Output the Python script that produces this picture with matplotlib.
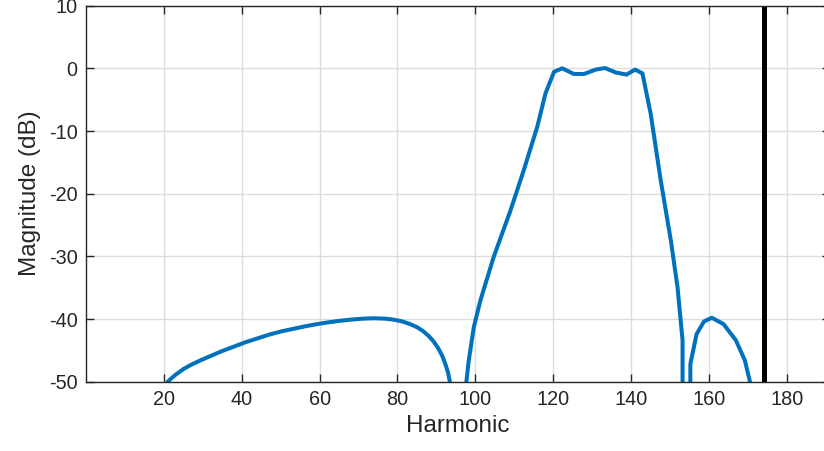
import numpy as np
import matplotlib
matplotlib.use('Agg')
import matplotlib.pyplot as plt

# harmonic response (three visible lobes)
lobe1_h  = [20.3, 21.5, 23, 25, 27, 29.4, 32, 35, 38, 41, 44, 47, 50, 53, 56, 59, 62, 65, 68, 71, 74,
            77, 79, 81, 83, 85, 86.5, 88, 89.3, 90.5, 91.5, 92.3, 93, 93.6]
lobe1_db = [-50.5, -49.7, -48.9, -48.0, -47.3, -46.6, -45.9, -45.1, -44.4, -43.7, -43.1, -42.5, -42.0,
            -41.6, -41.2, -40.85, -40.55, -40.3, -40.1, -39.95, -39.88, -39.95, -40.1, -40.35, -40.75,
            -41.3, -41.9, -42.7, -43.6, -44.7, -45.9, -47.2, -48.6, -50.5]

main_h  = [97.6, 98.3, 99.6, 101.3, 104.7, 109.0, 112.4, 115.9, 118.0, 120.2, 122.3, 125.3, 127.9, 130.9,
           133.3, 136.0, 138.8, 141.0, 142.9, 145.0, 147.6, 150.2, 151.9, 153.2, 153.2]
main_db = [-50.5, -46.6, -41.3, -37.0, -30.1, -22.7, -16.3, -9.3, -4.0, -0.55, 0.0, -0.9, -0.9, -0.2,
           0.05, -0.65, -1.0, -0.2, -0.8, -7.2, -17.9, -27.5, -34.9, -43.4, -50.5]

lobe3_h  = [155.2, 155.2, 156.8, 158.7, 160.7, 163.7, 166.9, 169.2, 170.7]
lobe3_db = [-50.5, -47.2, -42.4, -40.4, -39.8, -40.8, -43.4, -46.6, -50.5]

cutoff = 174
xticks = [20, 40, 60, 80, 100, 120, 140, 160, 180]
yticks = [-50, -40, -30, -20, -10, 0, 10]

plt.rcParams['font.family'] = ['Liberation Sans', 'DejaVu Sans']
plt.rcParams['axes.unicode_minus'] = False
fig = plt.figure(figsize=(8.24, 4.51), dpi=100)
ax = fig.add_axes([0.1043, 0.1537, 0.9027, 0.8337])

blue = '#0072BD'
for h, db in [(lobe1_h, lobe1_db), (main_h, main_db), (lobe3_h, lobe3_db)]:
  ax.plot(h, db, color=blue, lw=2.9, solid_joinstyle='round')
ax.axvline(cutoff, color='black', lw=3.6)

ax.set_xlim(0, 191)
ax.set_ylim(-50, 10)
ax.set_xticks(xticks)
ax.set_yticks(yticks)
ax.grid(True, color='#dcdcdc', lw=1.0)
ax.set_axisbelow(True)
ax.tick_params(direction='in', length=5.5, width=1.0, colors='#262626',
               top=True, right=True, labelsize=14.3, pad=6)
for s in ax.spines.values():
  s.set_color('#262626')
  s.set_linewidth(1.0)

ax.set_xlabel('Harmonic', fontsize=17.5, color='#262626', labelpad=4)
ax.set_ylabel('Magnitude (dB)', fontsize=17.5, color='#262626', labelpad=6)

fig.savefig('out.png', dpi=100)
